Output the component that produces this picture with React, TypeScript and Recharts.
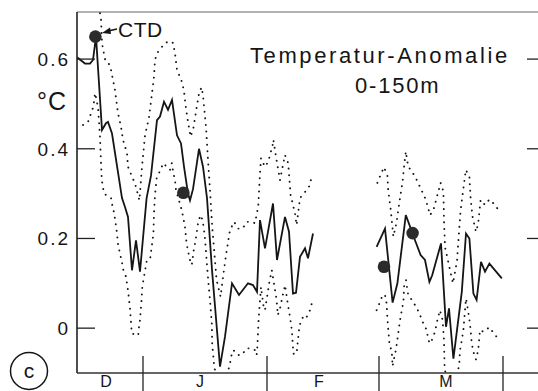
import { ComposedChart, Line, ReferenceLine, Scatter, XAxis, YAxis } from "recharts";

// x = days counted from 1 December, y = temperature anomaly (°C), 0-150 m
const meanDecFeb: [number, number][] = [
  [14.5, 0.604], [16.5, 0.59], [17.75, 0.59], [18.5, 0.598], [19.25, 0.65],
  [20.75, 0.442], [21.75, 0.457], [22.25, 0.46], [23.25, 0.434], [25.75, 0.29],
  [26.5, 0.27], [27.25, 0.248], [28.25, 0.129], [29.25, 0.196], [30.25, 0.126],
  [31.9, 0.29], [33, 0.34], [34.5, 0.464], [35.25, 0.472], [36.25, 0.505],
  [37.25, 0.487], [38.25, 0.509], [39.5, 0.43], [40.5, 0.412], [41.25, 0.36],
  [42.25, 0.3], [42.75, 0.285], [43.5, 0.31], [45, 0.4], [46, 0.36],
  [47, 0.29], [48.25, 0.13], [50.25, -0.086], [51.5, -0.019], [53.25, 0.1],
  [55, 0.074], [57.25, 0.1], [58.5, 0.096], [59.5, 0.081], [60.25, 0.241],
  [61.5, 0.178], [63.5, 0.278], [64.5, 0.152], [66.5, 0.248], [67.5, 0.215],
  [68.5, 0.077], [69.25, 0.079], [70.25, 0.159], [71.5, 0.178], [72.25, 0.156],
  [73.5, 0.211],
];
const meanMar: [number, number][] = [
  [89.4, 0.181], [91.5, 0.222], [93.4, 0.057], [94.6, 0.1], [96.7, 0.252],
  [98.4, 0.211], [99, 0.196], [100.4, 0.163], [101.5, 0.152], [102.6, 0.103],
  [103.3, 0.118], [105.5, 0.189], [106.75, 0.003], [107.5, 0.044], [108.6, -0.068],
  [109.6, 0.003], [110.7, 0.081], [111.75, 0.211], [112.6, 0.2], [113.6, 0.077],
  [114.4, 0.063], [115.5, 0.148], [116.5, 0.126], [117.6, 0.144], [120.7, 0.111],
];
const upperDecFeb: [number, number][] = [
  [19, 0.76], [20.5, 0.69], [20.75, 0.635], [21.5, 0.6], [22.25, 0.595],
  [23, 0.576], [24, 0.531], [24.75, 0.479], [25.5, 0.449], [26, 0.42],
  [27, 0.39], [27.25, 0.36], [28.25, 0.338], [29, 0.323], [30.1, 0.285],
  [30.75, 0.36], [31.5, 0.43], [32.5, 0.47], [33.25, 0.524], [33.75, 0.561],
  [34, 0.598], [34.5, 0.613], [36.5, 0.636], [37.75, 0.64], [38.5, 0.636],
  [39, 0.613], [39.5, 0.576], [40.7, 0.55], [41.25, 0.528], [41.75, 0.49],
  [42.3, 0.457], [42.9, 0.427], [43.6, 0.446], [44.25, 0.483], [45.1, 0.528],
  [45.7, 0.537], [46.1, 0.51], [46.75, 0.449], [47.3, 0.368], [47.75, 0.308],
  [48.3, 0.226], [49.4, 0.107], [50.4, 0.07], [50.9, 0.107], [51.75, 0.163],
  [52.75, 0.219], [53.8, 0.237], [54.8, 0.222], [55.9, 0.222], [56.9, 0.237],
  [58.25, 0.237], [59, 0.234], [59.8, 0.271], [60.25, 0.345], [60.5, 0.379],
  [61.5, 0.36], [62.3, 0.371], [63.4, 0.408], [63.6, 0.42], [64.25, 0.382],
  [65.25, 0.33], [66.5, 0.386], [67.3, 0.368], [67.9, 0.297], [69, 0.256],
  [69.4, 0.23], [70.25, 0.29], [71.9, 0.308], [72.75, 0.319], [73.2, 0.342],
];
const upperMar: [number, number][] = [
  [89.6, 0.324], [90.4, 0.342], [91.25, 0.359], [92.1, 0.34], [92.3, 0.308],
  [92.9, 0.267], [93.6, 0.204], [94.4, 0.237], [95.25, 0.29], [95.9, 0.327],
  [96.3, 0.364], [96.7, 0.394], [97.3, 0.36], [98.2, 0.35], [99.25, 0.334],
  [100.25, 0.315], [101.75, 0.286], [102.75, 0.252], [103.6, 0.263], [104.4, 0.29],
  [105.4, 0.324], [106.1, 0.305], [106.25, 0.24], [106.5, 0.181], [107.3, 0.148],
  [108.5, 0.1], [109.5, 0.15], [109.8, 0.189], [110.4, 0.263], [111, 0.305],
  [111.7, 0.353], [112.6, 0.338], [112.9, 0.29], [113.4, 0.248], [114.25, 0.215],
  [114.8, 0.234], [115.4, 0.286], [116.5, 0.275], [117.6, 0.287], [119, 0.275],
  [120.1, 0.26],
];
const lowerDecFeb: [number, number][] = [
  [16, 0.453], [17.25, 0.46], [18.6, 0.494], [19, 0.524], [19.4, 0.509],
  [19.8, 0.487], [20.25, 0.427], [20.5, 0.368], [20.7, 0.33], [21.25, 0.3],
  [23, 0.29], [23.3, 0.275], [23.8, 0.256], [24.4, 0.219], [24.8, 0.185],
  [25.25, 0.167], [25.7, 0.148], [26.1, 0.129], [26.75, 0.115], [27.3, 0.081],
  [27.75, 0.044], [28.2, -0.012], [29.8, -0.016], [30, 0.003], [30.25, 0.018],
  [30.7, 0.07], [30.8, 0.089], [31.1, 0.107], [31.9, 0.148], [32.75, 0.152],
  [33.6, 0.211], [33.75, 0.256], [34, 0.297], [34.4, 0.334], [36.1, 0.368],
  [36.9, 0.36], [37.75, 0.353], [38.2, 0.368], [38.6, 0.345], [39, 0.33],
  [39.25, 0.308], [40.7, 0.263], [41.5, 0.226], [41.9, 0.189], [42.3, 0.17],
  [42.75, 0.152], [43.2, 0.141], [43.6, 0.17], [44, 0.189], [44.4, 0.211],
  [44.8, 0.237], [45.4, 0.252], [45.9, 0.241], [46.25, 0.219], [46.5, 0.2],
  [46.9, 0.152], [47.3, 0.107], [47.75, 0.063], [48.2, 0.01], [48.3, -0.034],
  [48.8, -0.086], [50.25, -0.14], [52.6, -0.086], [53.2, -0.057], [53.6, -0.049],
  [54.8, -0.06], [55.7, -0.06], [56.9, -0.045], [58.2, -0.045], [59, -0.049],
  [59.4, -0.06], [59.6, -0.04], [59.9, 0.02], [60.5, 0.092], [61.1, 0.051],
  [61.5, 0.04], [62.6, 0.103], [63.2, 0.129], [64, 0.085], [64.4, 0.063],
  [64.7, 0.029], [65.25, 0.044], [65.7, 0.063], [66.5, 0.096], [67.3, 0.048],
  [67.75, 0.025], [68.2, -0.004], [68.6, -0.057], [69.4, -0.057], [69.6, -0.038],
  [70, -0.004], [70.4, 0.014], [71.25, 0.029], [71.9, 0.025], [72.6, 0.036],
  [73.2, 0.055],
];
const lowerMar: [number, number][] = [
  [89.4, 0.04], [90.1, 0.055], [90.9, 0.074], [91.5, 0.074], [91.9, 0.055],
  [92.1, 0.022], [92.3, -0.001], [92.6, -0.034], [93.2, -0.053], [93.4, -0.085],
  [93.75, -0.068], [94.25, -0.048], [94.8, -0.012], [95.25, 0.018], [95.7, 0.04],
  [96.1, 0.059], [96.3, 0.096], [96.75, 0.107], [97.3, 0.074], [98.2, 0.063],
  [99.25, 0.048], [100.1, 0.033], [100.9, 0.014], [101.75, -0.001], [102.6, -0.034],
  [103.2, -0.027], [104, -0.008], [104.7, 0.022], [105.25, 0.04], [105.9, 0.018],
  [106.25, -0.027], [106.4, -0.09], [108, -0.15], [109.8, -0.094], [110.1, -0.075],
  [110.25, -0.049], [110.7, -0.027], [111.1, -0.004], [111.5, 0.04], [111.75, 0.066],
  [112.1, 0.048], [112.75, 0.01], [113.2, -0.034], [113.6, -0.053], [114.25, -0.07],
  [114.8, -0.049], [115.25, -0.004], [116.1, -0.008], [117.6, 0.002], [118.75, -0.012],
  [120.1, -0.027],
];
const ctdPoints: [number, number][] = [
  [19.1, 0.65], [41.1, 0.302], [91.25, 0.137], [98.4, 0.212],
];

const monthLabels = ["D", "J", "F", "M"];
const monthLabelDays = [21.75, 45.25, 75, 106.75];
const monthStartDays = [31, 62, 90, 121];
const yTicks = [0, 0.2, 0.4, 0.6];
const yTickLabels = ["0", "0.2", "0.4", "0.6"];
const xDomain: [number, number] = [14.5, 131];
const yDomain: [number, number] = [-0.1, 0.705];
const gapDay = 81;

const FONT = '"Liberation Sans", Arial, Helvetica, sans-serif';
const INK = "#151515";

const toRows = (a: [number, number][], b: [number, number][]) => [
  ...a.map(([d, v]) => ({ d, v })),
  { d: gapDay, v: null },
  ...b.map(([d, v]) => ({ d, v })),
];

const meanRows = toRows(meanDecFeb, meanMar);
const upperRows = toRows(upperDecFeb, upperMar);
const lowerRows = toRows(lowerDecFeb, lowerMar);
const ctdRows = ctdPoints.map(([d, v]) => ({ d, v }));

function LeftTick({ x, y, payload }: any) {
  const label = yTickLabels[yTicks.indexOf(payload.value)];
  return (
    <g>
      <line x1={x} x2={x + 18} y1={y} y2={y} stroke="#222" strokeWidth={1.3} />
      <text
        x={x - 7}
        y={y + 7}
        textAnchor="end"
        fontSize={19}
        letterSpacing={2}
        fill={INK}
        fontFamily={FONT}
      >
        {label}
      </text>
    </g>
  );
}

function RightTick({ x, y }: any) {
  return <line x1={x} x2={x - 16} y1={y} y2={y} stroke="#222" strokeWidth={1.3} />;
}

function MonthTick({ x, y, payload }: any) {
  if (monthStartDays.includes(payload.value)) {
    return <line x1={x} x2={x} y1={y - 17} y2={y + 25} stroke="#222" strokeWidth={1.3} />;
  }
  const label = monthLabels[monthLabelDays.indexOf(payload.value)];
  return (
    <text x={x} y={y + 14} textAnchor="middle" fontSize={16} fill={INK} fontFamily={FONT}>
      {label}
    </text>
  );
}

const dotStyle = {
  stroke: INK,
  strokeWidth: 1.9,
  strokeDasharray: "0.1 6.5",
  strokeLinecap: "round" as const,
};

export default function App() {
  return (
    <div
      style={{
        position: "absolute",
        left: 0,
        top: 0,
        width: 538,
        height: 391,
        overflow: "hidden",
        background: "#fff",
      }}
    >
      <ComposedChart width={560} height={420} margin={{ top: 12, right: 0, bottom: 0, left: 0 }}>
        <XAxis
          dataKey="d"
          type="number"
          domain={xDomain}
          allowDataOverflow
          ticks={[...monthLabelDays, ...monthStartDays].sort((a, b) => a - b)}
          interval={0}
          tick={<MonthTick />}
          tickLine={false}
          tickSize={0}
          tickMargin={0}
          height={47}
          axisLine={{ stroke: "#333", strokeWidth: 1.5 }}
        />
        <YAxis
          dataKey="v"
          type="number"
          domain={yDomain}
          allowDataOverflow
          ticks={yTicks}
          interval={0}
          tick={<LeftTick />}
          tickLine={false}
          tickSize={0}
          tickMargin={0}
          width={77}
          axisLine={{ stroke: "#222", strokeWidth: 1.6 }}
        />
        <YAxis
          yAxisId="r"
          orientation="right"
          dataKey="v"
          type="number"
          domain={yDomain}
          allowDataOverflow
          ticks={yTicks}
          interval={0}
          tick={<RightTick />}
          tickLine={false}
          tickSize={0}
          tickMargin={0}
          width={17}
          axisLine={{ stroke: "#222", strokeWidth: 1.5 }}
        />
        <ReferenceLine y={yDomain[1]} stroke="#666" strokeWidth={1.2} />
        <Line
          data={upperRows}
          dataKey="v"
          dot={false}
          activeDot={false}
          isAnimationActive={false}
          {...dotStyle}
        />
        <Line
          data={lowerRows}
          dataKey="v"
          dot={false}
          activeDot={false}
          isAnimationActive={false}
          {...dotStyle}
        />
        <Line
          data={meanRows}
          dataKey="v"
          stroke={INK}
          strokeWidth={1.8}
          dot={false}
          activeDot={false}
          isAnimationActive={false}
        />
        <Scatter
          data={ctdRows}
          dataKey="v"
          isAnimationActive={false}
          shape={(p: any) => <circle cx={p.cx} cy={p.cy} r={6.3} fill="#2b2b2b" />}
        />
      </ComposedChart>
      <svg
        width={538}
        height={391}
        style={{ position: "absolute", left: 0, top: 0, pointerEvents: "none" }}
        fontFamily={FONT}
        fill={INK}
      >
        <text x={250} y={63} fontSize={22} letterSpacing={2.6}>
          Temperatur-Anomalie
        </text>
        <text x={355} y={93} fontSize={22} letterSpacing={1.8}>
          0-150m
        </text>
        <text x={37} y={110} fontSize={25} letterSpacing={1}>
          °C
        </text>
        <text x={118} y={37} fontSize={21} letterSpacing={0.5}>
          CTD
        </text>
        <line x1={117} y1={29} x2={108} y2={31} stroke={INK} strokeWidth={1.5} />
        <polygon points="102,33 110,27.5 111,34" fill={INK} />
        <circle cx={29} cy={371} r={18.5} fill="none" stroke={INK} strokeWidth={1.5} />
        <text x={29} y={378} fontSize={21} textAnchor="middle">
          c
        </text>
      </svg>
    </div>
  );
}
